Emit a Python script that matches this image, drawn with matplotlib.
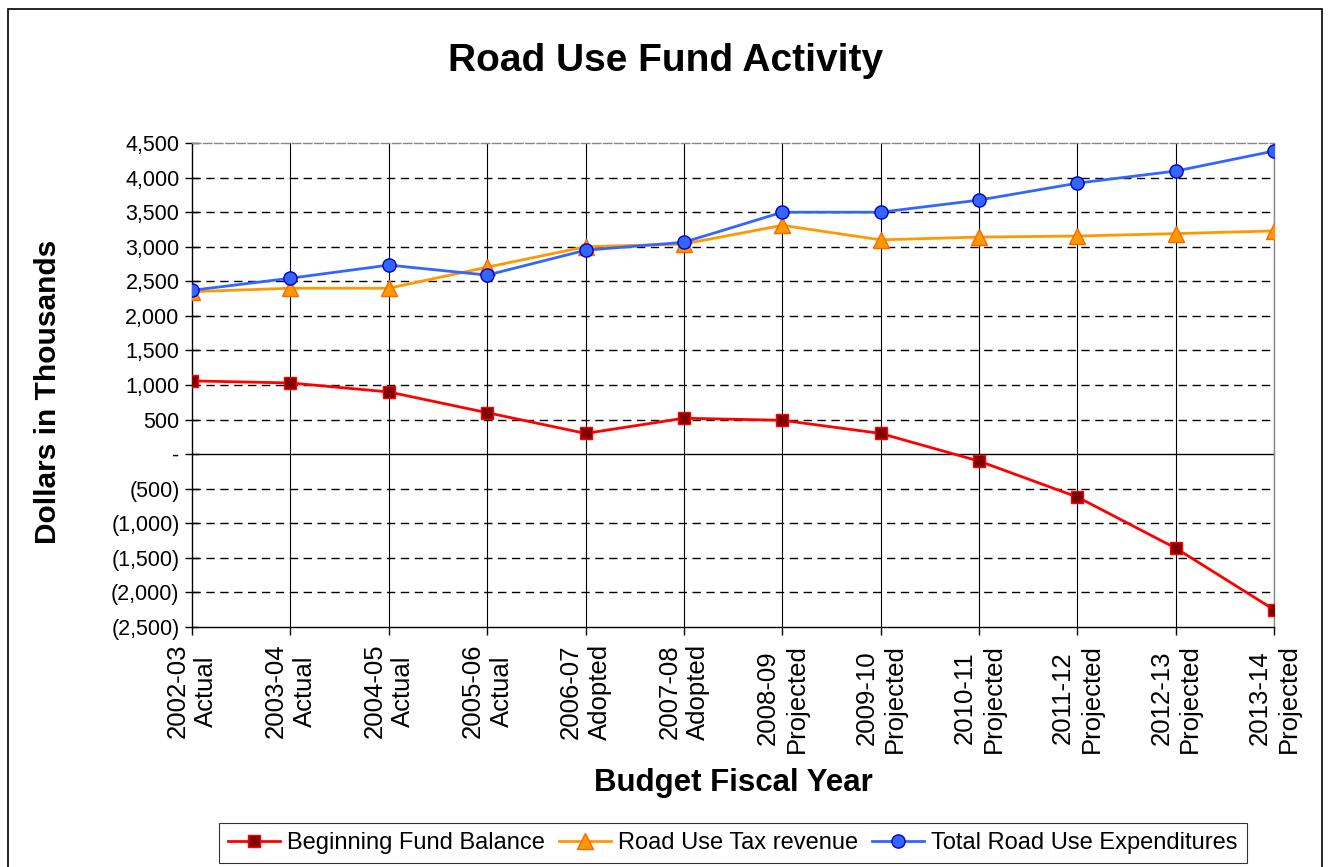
import matplotlib
matplotlib.use("Agg")
import matplotlib.pyplot as plt
from matplotlib.patches import Rectangle
from matplotlib.ticker import FuncFormatter

plt.rcParams['font.family'] = ['Liberation Sans', 'DejaVu Sans']

years = ["2002-03", "2003-04", "2004-05", "2005-06", "2006-07", "2007-08",
         "2008-09", "2009-10", "2010-11", "2011-12", "2012-13", "2013-14"]
status = ["Actual", "Actual", "Actual", "Actual", "Adopted", "Adopted",
          "Projected", "Projected", "Projected", "Projected", "Projected", "Projected"]
fund_balance = [1060, 1030, 900, 600, 300, 520, 490, 300, -100, -620, -1360, -2250]
tax_revenue = [2350, 2400, 2400, 2705, 3000, 3040, 3310, 3100, 3140, 3155, 3190, 3230]
expenditures = [2370, 2545, 2735, 2590, 2950, 3065, 3500, 3500, 3675, 3920, 4095, 4385]
y_ticks = list(range(-2500, 5000, 500))

fig = plt.figure(figsize=(13.30, 8.67), dpi=100)
ax = fig.add_axes([0.1444, 0.2768, 0.8136, 0.5582])

x = list(range(len(years)))
ax.plot(x, fund_balance, color='#FF0000', lw=2, marker='s', ms=9,
        mfc='#800000', mec='#FF0000', mew=1, label='Beginning Fund Balance', zorder=3)
ax.plot(x, tax_revenue, color='#FF9900', lw=2, marker='^', ms=11,
        mfc='#FF9900', mec='#FF6600', mew=1, label='Road Use Tax revenue', zorder=3)
ax.plot(x, expenditures, color='#3366FF', lw=2, marker='o', ms=9.5,
        mfc='#3366FF', mec='#0000CC', mew=1, label='Total Road Use Expenditures', zorder=4)

ax.set_xlim(0, len(years) - 1)
ax.set_ylim(-2500, 4500)
ax.set_yticks(y_ticks)

def fmt(v, pos):
    v = int(round(v))
    if v == 0:
        return '-'
    if v < 0:
        return '({:,})'.format(-v)
    return '{:,}'.format(v)

ax.yaxis.set_major_formatter(FuncFormatter(fmt))
ax.set_xticks(x)
ax.set_xticklabels([f"{a}\n{b}" for a, b in zip(years, status)], rotation=90,
                   ha='center', va='top', multialignment='center', fontsize=18.5,
                   linespacing=1.25)
ax.tick_params(axis='y', labelsize=15.5, direction='inout', length=10, width=1, pad=4)
ax.tick_params(axis='x', direction='out', length=6, width=1, pad=6)

for v in y_ticks:
    if v in (0, -2500, 4500):
        continue
    ax.axhline(v, color='black', lw=1, ls=(0, (6, 4)), zorder=1)
ax.axhline(0, color='black', lw=1, zorder=2)
for xi in x[1:]:
    ax.axvline(xi, color='black', lw=0.8, zorder=1)

for s in ['left', 'bottom']:
    ax.spines[s].set_color('black')
    ax.spines[s].set_linewidth(1)
for s in ['top', 'right']:
    ax.spines[s].set_color('#888888')
    ax.spines[s].set_linewidth(1)
ax.spines['top'].set_linestyle((0, (6, 2)))

fig.text(48 / 1330, 1 - 392 / 867, 'Dollars in Thousands', rotation=90, ha='center',
         va='center', fontsize=21.5, fontweight='bold')
fig.text(733 / 1330, 1 - 783 / 867, 'Budget Fiscal Year', ha='center', va='center',
         fontsize=22.5, fontweight='bold')
fig.text(666 / 1330, 1 - 61 / 867, 'Road Use Fund Activity', ha='center', va='center',
         fontsize=28, fontweight='bold')

leg = fig.legend(loc='center', bbox_to_anchor=(733 / 1330, 1 - 843 / 867), ncol=3,
                 fontsize=17, frameon=True, fancybox=False, edgecolor='black',
                 borderpad=0.4, handlelength=2.2, handletextpad=0.3, columnspacing=0.6)
leg.get_frame().set_linewidth(0.8)

fig.patches.append(Rectangle((0.006, -0.01), 0.988, 1.0, transform=fig.transFigure,
                             fill=False, edgecolor='black', lw=1.2))

fig.savefig('out.png', dpi=100)
